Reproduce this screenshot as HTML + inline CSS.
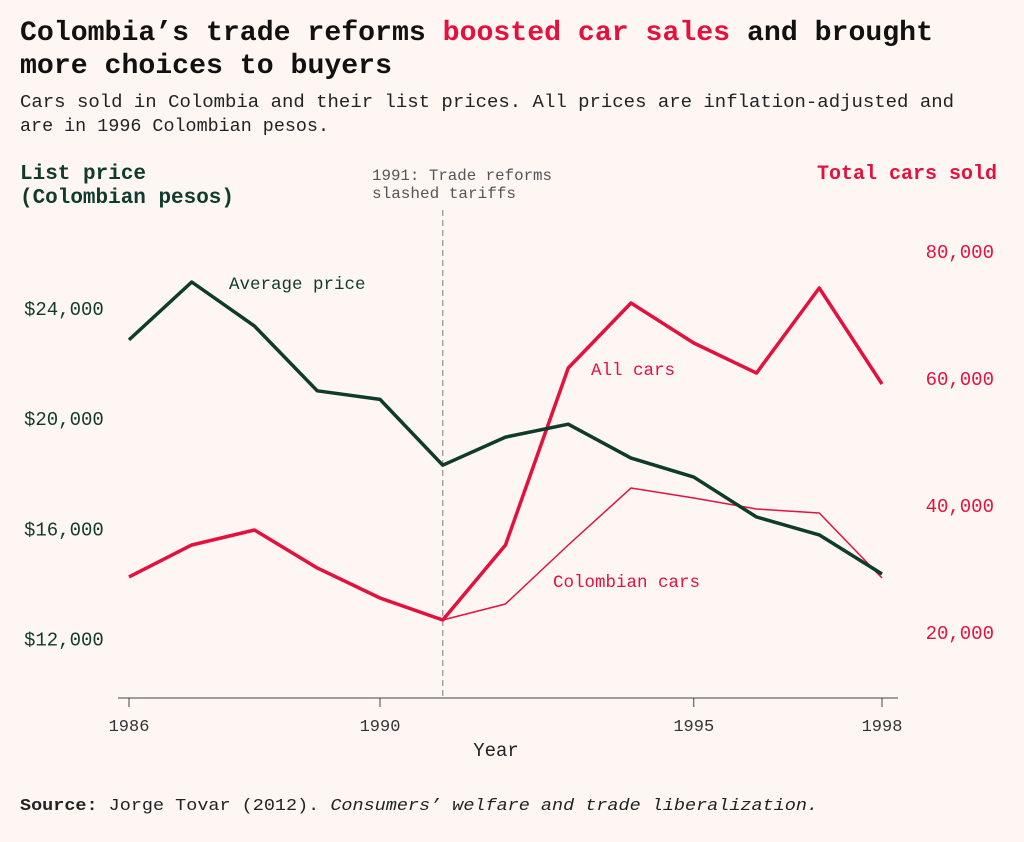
<!DOCTYPE html>
<html><head><meta charset="utf-8"><style>
body{margin:0;background:#fdf6f3;width:1024px;height:837px;overflow:hidden;font-family:"Liberation Mono",monospace;}
svg text{font-family:"Liberation Mono",monospace;}
</style></head><body>
<svg id="chart" width="1024" height="837" xmlns="http://www.w3.org/2000/svg">
<rect width="1024" height="837" fill="#fdf6f3"/>
<text x="20" y="40" font-size="28" font-weight="bold" fill="#111" textLength="913" lengthAdjust="spacingAndGlyphs">Colombia’s trade reforms <tspan fill="#e4113f">boosted car sales</tspan> and brought</text>
<text x="20" y="73" font-size="28" font-weight="bold" fill="#111" textLength="372" lengthAdjust="spacingAndGlyphs">more choices to buyers</text>
<text x="20" y="107" font-size="18" fill="#222" textLength="934" lengthAdjust="spacingAndGlyphs">Cars sold in Colombia and their list prices. All prices are inflation-adjusted and</text>
<text x="20" y="131" font-size="18" fill="#222" textLength="309" lengthAdjust="spacingAndGlyphs">are in 1996 Colombian pesos.</text>
<text font-size="21" font-weight="bold" fill="#0f3b2a"><tspan x="20" y="179">List price</tspan><tspan x="20" y="203" textLength="214" lengthAdjust="spacingAndGlyphs">(Colombian pesos)</tspan></text>
<text x="997" y="179" font-size="20" font-weight="bold" fill="#e4113f" text-anchor="end">Total cars sold</text>
<text font-size="16" fill="#555"><tspan x="372" y="180" textLength="180" lengthAdjust="spacingAndGlyphs">1991: Trade reforms</tspan><tspan x="372" y="198">slashed tariffs</tspan></text>
<g id="plot"></g>
<text x="496" y="756" font-size="19" fill="#222" text-anchor="middle">Year</text>
<text x="20" y="810" font-size="17" fill="#222" textLength="798" lengthAdjust="spacingAndGlyphs"><tspan font-weight="bold">Source:</tspan> Jorge Tovar (2012). <tspan font-style="italic">Consumers’ welfare and trade liberalization.</tspan></text>
</svg>
<script>
const years=[1986,1987,1988,1989,1990,1991,1992,1993,1994,1995,1996,1997,1998];
const avgPrice=[22880,24980,23380,21030,20720,18330,19350,19820,18590,17900,16450,15800,14380];
const allCars=[28820,33860,36220,30240,25510,22050,33860,61730,71970,65670,60940,74330,59210];
const colYears=[1991,1992,1993,1994,1995,1996,1997,1998];
const colCars=[22050,24570,33860,42830,41260,39530,38900,28660];
const xTicks=[1986,1990,1995,1998];
const leftTicks=[12000,16000,20000,24000];
const rightTicks=[20000,40000,60000,80000];
const reformYear=1991;
const x=v=>129+(v-1986)*62.75;
const yL=v=>309+(24000-v)*0.02755;
const yR=v=>633-(v-20000)*0.00635;
const g=document.getElementById('plot');const NS='http://www.w3.org/2000/svg';
function el(t,a){const e=document.createElementNS(NS,t);for(const k in a)e.setAttribute(k,a[k]);g.appendChild(e);return e;}
let ax=el('line',{x1:118,x2:898,y1:698,y2:698,stroke:'#444','stroke-width':1});

xTicks.forEach(t=>{let l=el('line',{x1:x(t),x2:x(t),y1:698,y2:707,stroke:'#444'});

let tx=el('text',{x:x(t),y:731,'font-size':17,fill:'#333','text-anchor':'middle'});tx.textContent=t;
});
leftTicks.forEach(t=>{let tx=el('text',{x:24,y:yL(t)+6,'font-size':19,fill:'#0f3b2a'});tx.textContent='$'+t.toLocaleString('en-US');
});
rightTicks.forEach(t=>{let tx=el('text',{x:994,y:yR(t)+6,'font-size':19,fill:'#e4113f','text-anchor':'end'});tx.textContent=t.toLocaleString('en-US');
});
let rl=el('line',{x1:x(reformYear),x2:x(reformYear),y1:210,y2:698,stroke:'#999','stroke-dasharray':'6,4','stroke-width':1.3});

function line(xs,ys,yf,color,w,name){let p=el('polyline',{points:xs.map((v,i)=>x(v)+','+yf(ys[i])).join(' '),fill:'none',stroke:color,'stroke-width':w,'stroke-linejoin':'round'});
}
line(colYears,colCars,yR,'#e4113f',1.5,'colombian-cars-line');
line(years,allCars,yR,'#e4113f',3.5,'all-cars-line');
line(years,avgPrice,yL,'#0f3b2a',3.5,'average-price-line');
function lab(t,xx,yy,c,n){let e=el('text',{x:xx,y:yy,'font-size':17.5,fill:c});e.textContent=t;}
lab('Average price',229,289,'#0f3b2a','average-price-label');
lab('All cars',591,375,'#e4113f','all-cars-label');
lab('Colombian cars',553,587,'#e4113f','colombian-cars-label');
</script>
</body></html>
